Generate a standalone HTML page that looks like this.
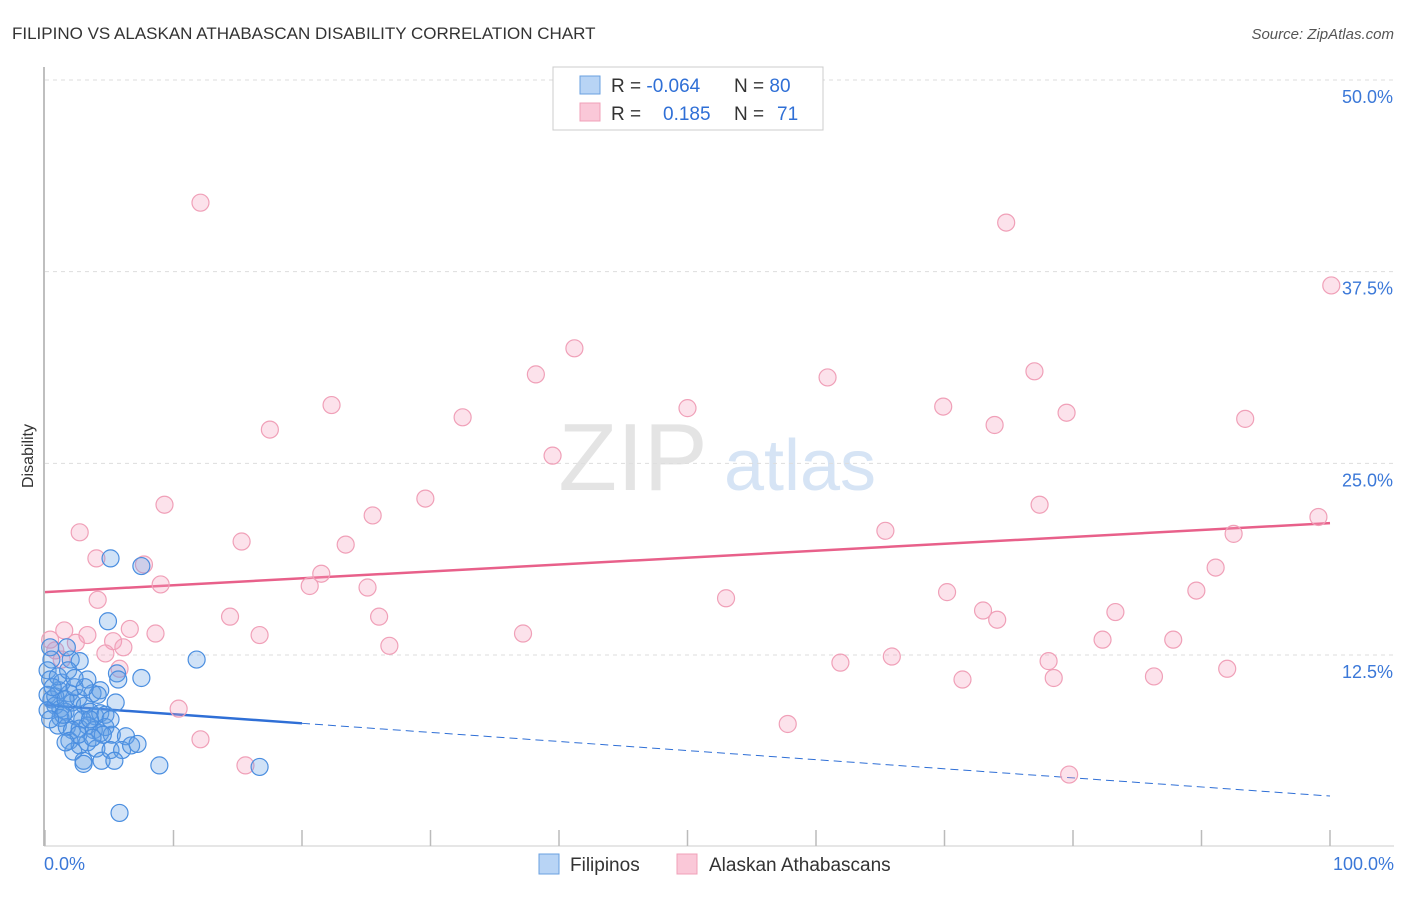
<!DOCTYPE html>
<html><head><meta charset="utf-8"><style>
body{margin:0;background:#fff;font-family:"Liberation Sans",sans-serif;}
svg text{font-family:"Liberation Sans",sans-serif;}
</style></head><body>
<svg id="chart" width="1406" height="892" viewBox="0 0 1406 892" xmlns="http://www.w3.org/2000/svg">
<text x="12" y="39" font-size="17" fill="#333">FILIPINO VS ALASKAN ATHABASCAN DISABILITY CORRELATION CHART</text>
<text x="1394" y="39" font-size="15" fill="#555" font-style="italic" text-anchor="end">Source: ZipAtlas.com</text>
<text x="33" y="456" font-size="16" fill="#333" text-anchor="middle" transform="rotate(-90 33 456)">Disability</text>
<g>
<text x="633" y="490" font-size="96" fill="#e4e4e4" font-family="Liberation Serif" text-anchor="middle">ZIP</text>
<text x="800" y="490" font-size="72" fill="#d6e4f5" text-anchor="middle">atlas</text>
</g>
<g id="grid"></g>
<g id="axes"></g>
<g id="trend"></g>
<g id="points"></g>
<g>
<rect x="553" y="67" width="270" height="63" fill="#fff" stroke="#ccc"/>
<rect x="580" y="76" width="20" height="18" fill="#b8d4f5" stroke="#6aa0e0"/>
<rect x="580" y="103" width="20" height="18" fill="#fac8d8" stroke="#f0a0b8"/>
<text x="611" y="92" font-size="19" fill="#333">R = <tspan fill="#2f6fd6">-0.064</tspan></text>
<text x="734" y="92" font-size="19" fill="#333">N = <tspan fill="#2f6fd6">80</tspan></text>
<text x="611" y="120" font-size="19" fill="#333">R = <tspan fill="#2f6fd6" x="663">0.185</tspan></text>
<text x="734" y="120" font-size="19" fill="#333">N = <tspan fill="#2f6fd6" x="777">71</tspan></text>
</g>
<g>
<rect x="539" y="854" width="20" height="20" fill="#b8d4f5" stroke="#6aa0e0"/>
<text x="570" y="871" font-size="19" fill="#333">Filipinos</text>
<rect x="677" y="854" width="20" height="20" fill="#fac8d8" stroke="#f0a0b8"/>
<text x="709" y="871" font-size="19" fill="#333">Alaskan Athabascans</text>
</g>
</svg>
<script>
const yTicks=[12.5,25,37.5,50];
const yTickLabels=["12.5%","25.0%","37.5%","50.0%"];
const xTickLabels=["0.0%","100.0%"];
const blueX=[5.1,7.5,4.9,11.8,7.5,5.6,5.7,3.3,2.0,2.7,1.7,0.4,0.5,0.2,0.4,1.1,1.9,3.7,5.5,0.2,0.5,0.8,1.2,1.6,2.1,2.6,3.1,3.5,3.9,4.3,4.7,2.4,2.9,1.2,1.0,1.7,2.1,2.7,3.3,3.8,4.3,4.7,5.2,1.9,2.7,3.3,4.0,4.5,2.2,3.0,4.4,5.1,6.3,6.0,6.7,7.2,3.0,5.4,8.9,16.7,5.8,0.2,0.8,1.6,1.3,2.3,4.3,1.0,1.8,3.5,2.6,3.7,5.1,4.1,3.1,2.3,1.4,0.6,0.4,1.6];
const blueY=[18.8,18.3,14.7,12.2,11.0,11.3,10.9,10.9,12.2,12.1,13.0,13.0,12.2,11.5,10.9,10.2,10.0,10.0,9.4,9.9,9.6,9.2,9.0,8.8,9.4,9.7,9.2,8.8,8.5,8.7,8.6,8.5,8.3,8.4,7.9,7.8,7.6,7.7,7.9,7.6,7.4,7.8,7.3,6.9,6.6,6.8,6.4,7.3,6.2,5.6,5.6,6.3,7.2,6.3,6.6,6.7,5.4,5.6,5.3,5.2,2.2,8.9,9.8,9.6,10.7,10.4,10.2,11.1,11.5,8.3,7.3,7.1,8.3,9.9,10.4,11.0,8.6,10.4,8.3,6.8];
const pinkX=[12.1,74.8,100.1,41.2,38.2,60.9,77.0,22.3,69.9,32.5,50.0,17.5,73.9,79.5,93.4,39.5,29.6,9.3,25.5,77.4,65.4,99.1,92.5,2.7,15.3,23.4,4.0,7.7,21.5,9.0,20.6,25.1,91.1,89.6,4.1,53.0,70.2,73.0,74.1,83.3,14.4,26.0,1.5,3.3,6.6,8.6,16.7,37.2,5.3,6.1,26.8,82.3,87.8,2.4,0.8,4.7,1.3,5.8,61.9,65.9,78.1,92.0,71.4,78.5,86.3,10.4,57.8,12.1,15.6,79.7,0.4];
const pinkY=[42.0,40.7,36.6,32.5,30.8,30.6,31.0,28.8,28.7,28.0,28.6,27.2,27.5,28.3,27.9,25.5,22.7,22.3,21.6,22.3,20.6,21.5,20.4,20.5,19.9,19.7,18.8,18.4,17.8,17.1,17.0,16.9,18.2,16.7,16.1,16.2,16.6,15.4,14.8,15.3,15.0,15.0,14.1,13.8,14.2,13.9,13.8,13.9,13.4,13.0,13.1,13.5,13.5,13.3,12.8,12.6,12.2,11.6,12.0,12.4,12.1,11.6,10.9,11.0,11.1,9.0,8.0,7.0,5.3,4.7,13.5];
const pinkTrend=[16.6,21.1];
const blueTrend=[9.23,3.3];
const blueSolidEnd=20;

const NS="http://www.w3.org/2000/svg";
const X=p=>45+p*12.85, Y=v=>80+(50-v)*15.333;
function mk(t,a,parent){const e=document.createElementNS(NS,t);for(const k in a)e.setAttribute(k,a[k]);parent.appendChild(e);return e;}
const grid=document.getElementById('grid'),axes=document.getElementById('axes'),tr=document.getElementById('trend'),pts=document.getElementById('points');
yTicks.forEach((v,i)=>{
 const l=mk('line',{x1:45,x2:1394,y1:Y(v),y2:Y(v),stroke:'#ddd','stroke-dasharray':'4,4'},grid);
 
 
 const t=mk('text',{x:1393,y:Y(v)+23,'font-size':18,fill:'#3b78d8','text-anchor':'end'},grid);
 t.textContent=yTickLabels[i];
 
 
});
const ya=mk('line',{x1:44,x2:44,y1:67,y2:846,stroke:'#aaa','stroke-width':1.5},axes);


const xa=mk('line',{x1:44,x2:1394,y1:846,y2:846,stroke:'#ccc'},axes);


for(let i=0;i<=10;i++){const tk=mk('line',{x1:X(i*10),x2:X(i*10),y1:830,y2:846,stroke:'#bbb','stroke-width':1.5},axes);
 
 }
const xl0=mk('text',{x:44,y:870,'font-size':18,fill:'#3b78d8'},axes);xl0.textContent=xTickLabels[0];


const xl1=mk('text',{x:1394,y:870,'font-size':18,fill:'#3b78d8','text-anchor':'end'},axes);xl1.textContent=xTickLabels[1];


pinkX.forEach((x,i)=>{const c=mk('circle',{cx:X(x),cy:Y(pinkY[i]),r:8.5,fill:'rgba(245,160,190,0.3)',stroke:'#f0a0b8','stroke-width':1.2},pts);
 
 });
blueX.forEach((x,i)=>{const c=mk('circle',{cx:X(x),cy:Y(blueY[i]),r:8.5,fill:'rgba(100,160,230,0.3)',stroke:'#4a8ee0','stroke-width':1.2},pts);
 
 });
const bv=p=>blueTrend[0]+(blueTrend[1]-blueTrend[0])*p/100;
const pl=mk('line',{x1:X(0),y1:Y(pinkTrend[0]),x2:X(100),y2:Y(pinkTrend[1]),stroke:'#e8608a','stroke-width':2.5},tr);


const bl=mk('line',{x1:X(0),y1:Y(bv(0)),x2:X(blueSolidEnd),y2:Y(bv(blueSolidEnd)),stroke:'#2f6fd6','stroke-width':2.5},tr);


const bd=mk('line',{x1:X(blueSolidEnd),y1:Y(bv(blueSolidEnd)),x2:X(100),y2:Y(bv(100)),stroke:'#2f6fd6','stroke-width':1,'stroke-dasharray':'8,5'},tr);


</script>
</body></html>
